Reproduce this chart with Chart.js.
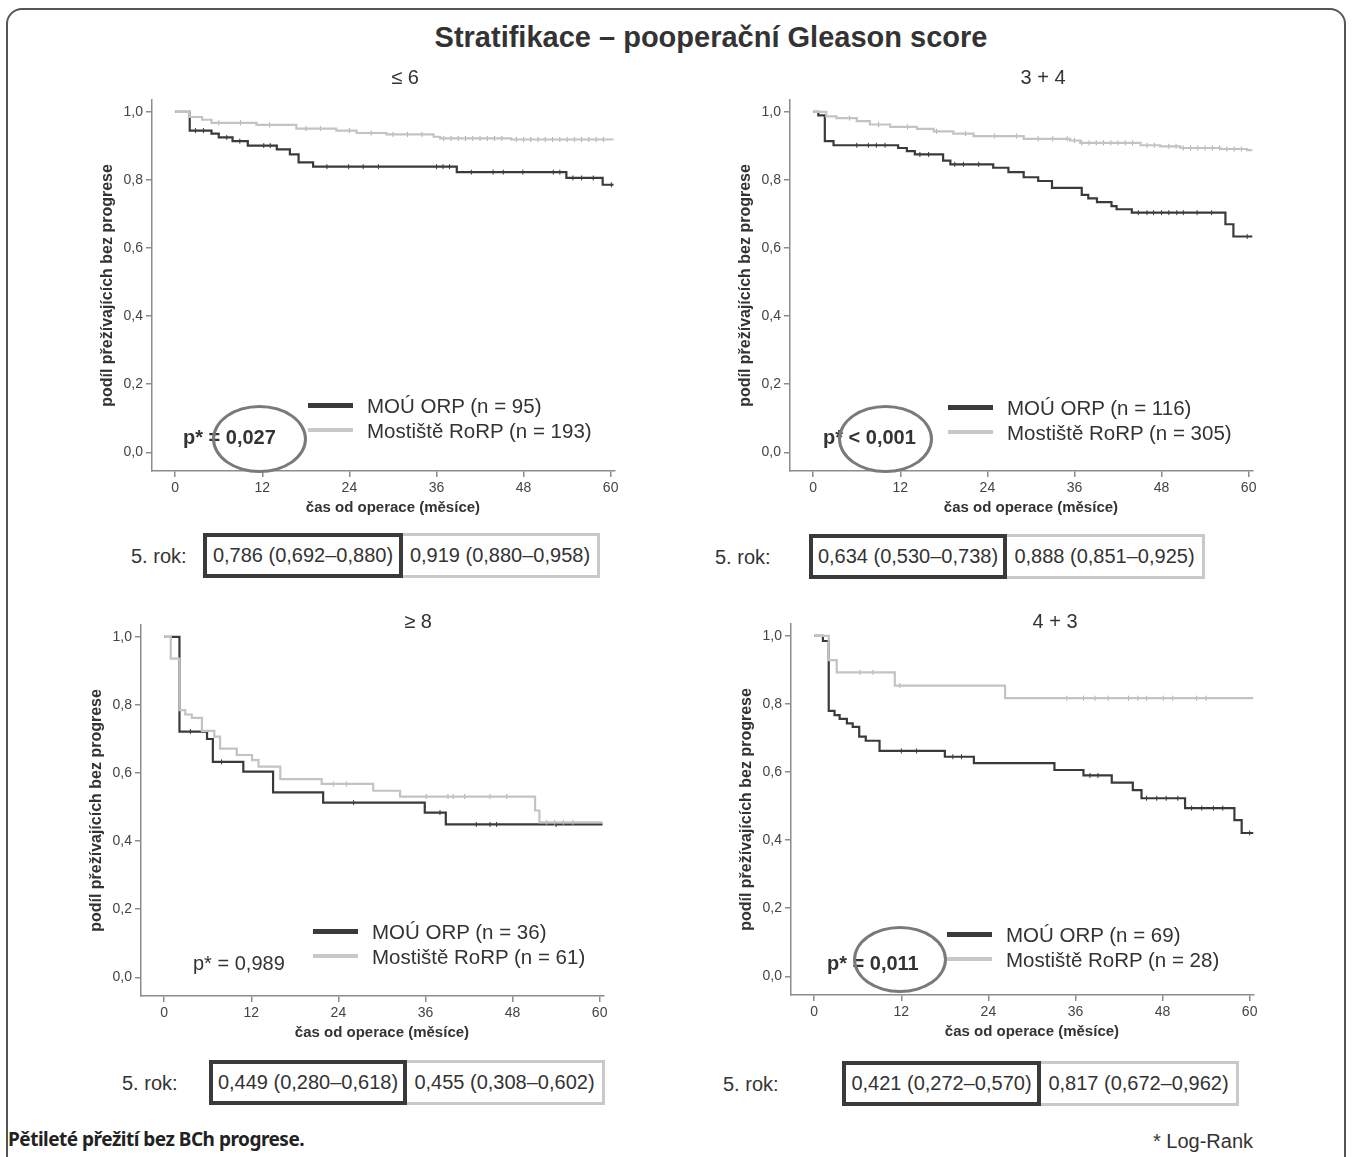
<!DOCTYPE html>
<html>
<head>
<meta charset="utf-8">
<script src="https://cdn.jsdelivr.net/npm/chart.js@4.4.1/dist/chart.umd.min.js"></script>
<style>
  body { margin: 0; background: #fff; font-family: 'Liberation Sans', Arial, sans-serif; color: #333; }
  #page { position: relative; width: 1352px; height: 1157px; overflow: hidden; }
  .abs { position: absolute; white-space: nowrap; }
  canvas { position: absolute; }
  .frame { position: absolute; left: 6px; top: 8px; width: 1340px; height: 1220px; box-sizing: border-box;
           border: 2px solid #555; border-radius: 16px; }
  .title { font-weight: bold; font-size: 29px; line-height: 34px; text-align: center; color: #333; }
  .sub { font-size: 20px; line-height: 24px; text-align: center; width: 200px; }
  .leg { font-size: 20.5px; line-height: 25px; display: flex; align-items: center; }
  .sw { display: inline-block; width: 45px; margin-right: 14px; }
  .pval { font-size: 20px; line-height: 24px; }
  .ring { border: 3px solid #7a7a7a; border-radius: 50%; box-sizing: border-box; }
  .box { box-sizing: border-box; font-size: 20px; text-align: center; background: transparent; }
  .lab { font-size: 20px; line-height: 24px; }
</style>
</head>
<body>
<div id="page">
  <div class="frame"></div>
  <div class="abs title" style="left:411px;top:20px;width:600px">Stratifikace – pooperační Gleason score</div>
  <div class="abs" style="left:8px;top:1126px;font-family:'Noto Sans',sans-serif;font-weight:bold;font-size:19px;line-height:26px;letter-spacing:-0.5px;color:#222">Pětileté přežití bez BCh progrese.</div>
  <div class="abs" style="left:1153px;top:1129px;font-size:20px;line-height:24px">* Log-Rank</div>
</div>
<script>
// Panel labels and table values
const panelTitles = ['≤ 6', '3 + 4', '≥ 8', '4 + 3'];
const groupNames = ['MOÚ ORP', 'Mostiště RoRP'];
const nOrp = [95, 116, 36, 69];
const nRorp = [193, 305, 61, 28];
const pValues = ['= 0,027', '< 0,001', '= 0,989', '= 0,011'];
const pBold = [true, true, false, true];
const fiveYearOrp = ['0,786 (0,692–0,880)', '0,634 (0,530–0,738)', '0,449 (0,280–0,618)', '0,421 (0,272–0,570)'];
const fiveYearRorp = ['0,919 (0,880–0,958)', '0,888 (0,851–0,925)', '0,455 (0,308–0,602)', '0,817 (0,672–0,962)'];

// Axis ticks
const monthTicks = [0, 12, 24, 36, 48, 60];
const survivalTicks = [0, 0.2, 0.4, 0.6, 0.8, 1.0];

// Gleason <= 6
const orpTime1 = [0, 2.0, 5.0, 6.0, 7.9, 10.0, 14.0, 15.8, 17.0, 19.0, 38.8, 53.9, 58.9, 60.4];
const orpSurv1 = [1.0, 0.945, 0.936, 0.925, 0.914, 0.901, 0.890, 0.875, 0.852, 0.839, 0.823, 0.806, 0.786, 0.786];
const orpCens1 = [2.8, 3.9, 7.1, 8.9, 12.2, 13.1, 20.9, 23.9, 25.9, 28.0, 36.0, 36.9, 37.8, 40.8, 43.8, 45.2, 47.9, 52.1, 53.0, 54.8, 56.0, 57.6, 60.1];
const rorpTime1 = [0, 2.0, 3.7, 5.0, 11.2, 16.7, 22.2, 25.0, 29.1, 35.6, 36.5, 46.3, 60.4];
const rorpSurv1 = [1.0, 0.985, 0.977, 0.968, 0.962, 0.951, 0.945, 0.938, 0.934, 0.927, 0.922, 0.919, 0.919];
const rorpCens1 = [6, 9, 13, 18, 20, 24, 27, 30, 32, 34, 37, 38, 39, 40, 41, 42, 43, 44, 45, 47, 48, 49, 50, 51, 52, 53, 54, 55, 56, 57, 58, 59];

// Gleason 3 + 4
const orpTime2 = [0, 0.7, 1.6, 2.8, 11.7, 12.9, 14.0, 17.9, 18.9, 24.8, 26.9, 29.0, 31.0, 32.9, 37.0, 37.9, 39.1, 41.1, 41.8, 43.9, 56.8, 57.9, 60.5];
const orpSurv2 = [1.0, 0.99, 0.914, 0.902, 0.894, 0.885, 0.875, 0.857, 0.846, 0.836, 0.823, 0.808, 0.797, 0.777, 0.756, 0.746, 0.735, 0.723, 0.714, 0.704, 0.670, 0.634, 0.634];
const orpCens2 = [6.0, 7.6, 8.7, 9.9, 14.7, 15.9, 19.5, 20.7, 22.8, 44.8, 46.0, 46.9, 48.0, 49.0, 50.1, 51.0, 52.9, 54.9, 59.8];
const rorpTime2 = [0, 1.8, 3.2, 6.0, 7.8, 10.6, 14.3, 16.6, 19.3, 22.1, 29.0, 35.4, 36.8, 45.1, 47.8, 50.6, 56.1, 59.8, 60.5];
const rorpSurv2 = [1.0, 0.987, 0.982, 0.973, 0.963, 0.956, 0.950, 0.943, 0.936, 0.929, 0.921, 0.916, 0.909, 0.902, 0.899, 0.894, 0.891, 0.888, 0.888];
const rorpCens2 = [5, 9, 13, 17, 21, 25, 28, 31, 33, 35, 36, 37, 38, 39, 40, 41, 42, 43, 44, 46, 47, 49, 50, 51, 52, 53, 54, 55, 56, 57, 58, 59];

// Gleason >= 8
const orpTime3 = [0, 2.1, 5.9, 6.7, 10.9, 15.0, 21.9, 35.9, 38.8, 60.4];
const orpSurv3 = [1.0, 0.722, 0.700, 0.633, 0.604, 0.543, 0.513, 0.484, 0.449, 0.449];
const orpCens3 = [3.6, 7.9, 26.1, 38.0, 43.0, 44.9, 45.8, 54.0];
const rorpTime3 = [0, 0.9, 2.1, 2.9, 3.8, 5.2, 6.9, 7.7, 10.0, 12.1, 13.0, 16.0, 21.7, 28.8, 32.5, 51.1, 51.7, 60.4];
const rorpSurv3 = [1.0, 0.936, 0.785, 0.772, 0.762, 0.724, 0.707, 0.672, 0.653, 0.638, 0.619, 0.582, 0.568, 0.548, 0.531, 0.490, 0.455, 0.455];
const rorpCens3 = [23.3, 25.1, 36.1, 39.1, 39.8, 41.4, 44.9, 47.2, 52.7, 53.8, 55.0, 56.3];

// Gleason 4 + 3
const orpTime4 = [0, 1.2, 2.0, 2.8, 3.5, 4.5, 5.3, 6.2, 7.1, 9.0, 18.0, 22.0, 33.1, 37.1, 41.0, 43.9, 45.1, 51.1, 57.9, 58.9, 60.5];
const orpSurv4 = [1.0, 0.985, 0.780, 0.767, 0.756, 0.743, 0.733, 0.704, 0.692, 0.662, 0.645, 0.626, 0.606, 0.590, 0.569, 0.547, 0.523, 0.494, 0.459, 0.421, 0.421];
const orpCens4 = [12.0, 14.1, 19.1, 20.3, 38.0, 39.1, 45.8, 47.2, 48.5, 50.1, 52.0, 53.4, 55.0, 56.3, 60.0];
const rorpTime4 = [0, 2.0, 3.1, 11.1, 26.3, 60.5];
const rorpSurv4 = [1.0, 0.929, 0.893, 0.854, 0.817, 0.817];
const rorpCens4 = [6.3, 8.1, 11.8, 34.8, 37.1, 38.7, 40.5, 43.3, 44.6, 45.8, 48.1, 49.4, 52.7, 54.0];

const curves = [
    [orpTime1, orpSurv1, orpCens1, rorpTime1, rorpSurv1, rorpCens1],
    [orpTime2, orpSurv2, orpCens2, rorpTime2, rorpSurv2, rorpCens2],
    [orpTime3, orpSurv3, orpCens3, rorpTime3, rorpSurv3, rorpCens3],
    [orpTime4, orpSurv4, orpCens4, rorpTime4, rorpSurv4, rorpCens4]
];

// Page placement of each panel (pixels)
const layout = [
    { area: [152, 100], sub: [405, 77], legend: [308, 405], p: [183, 437], ring: [212, 405, 95, 68], lab: [131, 556], box: [203, 400, 533, 200, 200] },
    { area: [790, 100], sub: [1043, 77], legend: [948, 407], p: [823, 437], ring: [838, 405, 95, 68], lab: [715, 557], box: [809, 1004, 534, 198, 201] },
    { area: [141, 625], sub: [418, 621], legend: [313, 931], p: [193, 963], ring: null, lab: [122, 1083], box: [209, 404, 1060, 198, 201] },
    { area: [791, 624], sub: [1055, 621], legend: [947, 934], p: [827, 963], ring: [853, 926, 94, 67], lab: [723, 1084], box: [842, 1038, 1061, 199, 201] }
];

const DARK = '#3a3a3a';
const LIGHT = '#c3c3c3';
const AXIS = '#8c8c8c';
const Y_W = 58, X_H = 50, PAD_T = 14, PAD_R = 14, AREA_W = 463, AREA_H = 371;

// value of a step curve at time t
function stepValue(T, S, t) {
    let v = S[0];
    for (let i = 0; i < T.length; i++) {
        if (T[i] <= t) v = S[i];
    }
    return v;
}

// draw x axis title centred on the data range
const xTitlePlugin = {
    id: 'xTitle',
    afterDraw(chart) {
        const { ctx, scales: { x } } = chart;
        ctx.save();
        ctx.font = "bold 15px 'Liberation Sans', Arial, sans-serif";
        ctx.fillStyle = '#333';
        ctx.textAlign = 'center';
        ctx.textBaseline = 'middle';
        ctx.fillText('čas od operace (měsíce)', x.getPixelForValue(30), x.bottom - 13);
        ctx.restore();
    }
};

const page = document.getElementById('page');

function addDiv(cls, style, text) {
    const d = document.createElement('div');
    d.className = 'abs ' + cls;
    d.setAttribute('style', style);
    if (text !== undefined) d.textContent = text;
    page.appendChild(d);
    return d;
}

function makePanel(i) {
    const L = layout[i];
    const [oT, oS, oC, rT, rS, rC] = curves[i];

    const canvas = document.createElement('canvas');
    canvas.width = Y_W + AREA_W + PAD_R;
    canvas.height = PAD_T + AREA_H + X_H;
    canvas.style.left = (L.area[0] - Y_W) + 'px';
    canvas.style.top = (L.area[1] - PAD_T) + 'px';
    page.appendChild(canvas);

    new Chart(canvas.getContext('2d'), {
        type: 'line',
        data: {
            datasets: [
                {
                    label: groupNames[1],
                    data: rT.map((t, k) => ({ x: t, y: rS[k] })),
                    stepped: 'before',
                    borderColor: LIGHT,
                    borderWidth: 2.2,
                    pointRadius: 0,
                    order: 0
                },
                {
                    label: groupNames[0],
                    data: oT.map((t, k) => ({ x: t, y: oS[k] })),
                    stepped: 'before',
                    borderColor: DARK,
                    borderWidth: 2.2,
                    pointRadius: 0,
                    order: 1
                },
                {
                    label: 'cens ' + groupNames[1],
                    data: rC.map(t => ({ x: t, y: stepValue(rT, rS, t) })),
                    showLine: false,
                    pointStyle: 'line',
                    rotation: 90,
                    pointRadius: 2.5,
                    borderColor: '#a8a8a8',
                    pointBorderWidth: 1,
                    order: 0
                },
                {
                    label: 'cens ' + groupNames[0],
                    data: oC.map(t => ({ x: t, y: stepValue(oT, oS, t) })),
                    showLine: false,
                    pointStyle: 'line',
                    rotation: 90,
                    pointRadius: 2.5,
                    borderColor: DARK,
                    pointBorderWidth: 1,
                    order: 1
                }
            ]
        },
        options: {
            responsive: false,
            animation: false,
            layout: { padding: { top: PAD_T, right: PAD_R, left: 0, bottom: 0 } },
            plugins: { legend: { display: false }, tooltip: { enabled: false } },
            scales: {
                x: {
                    type: 'linear',
                    min: -3.2,
                    max: 60.6,
                    afterBuildTicks: s => { s.ticks = monthTicks.map(v => ({ value: v })); },
                    afterFit: s => { s.height = X_H; },
                    ticks: { color: '#444', padding: 3, maxRotation: 0, autoSkip: false,
                             font: { size: 14, family: "'Liberation Sans', Arial, sans-serif" } },
                    grid: { drawOnChartArea: false, drawTicks: true, tickLength: 6, color: AXIS, lineWidth: 1.5 },
                    border: { display: true, color: AXIS, width: 1.5 }
                },
                y: {
                    min: -0.055,
                    max: 1.035,
                    afterBuildTicks: s => { s.ticks = survivalTicks.map(v => ({ value: v })); },
                    afterFit: s => { s.width = Y_W; },
                    ticks: { color: '#444', padding: 3,
                             font: { size: 14, family: "'Liberation Sans', Arial, sans-serif" },
                             callback: v => v.toFixed(1).replace('.', ',') },
                    grid: { drawOnChartArea: false, drawTicks: true, tickLength: 6, color: AXIS, lineWidth: 1.5 },
                    border: { display: true, color: AXIS, width: 1.5 },
                    title: { display: true, text: 'podíl přežívajících bez progrese', color: '#333',
                             padding: { top: 4, bottom: 0 },
                             font: { size: 16, weight: 'bold', family: "'Liberation Sans', Arial, sans-serif" } }
                }
            }
        },
        plugins: [xTitlePlugin]
    });

    // subtitle
    addDiv('sub', `left:${L.sub[0] - 100}px;top:${L.sub[1] - 12}px`, panelTitles[i]);

    // legend
    const leg1 = addDiv('leg', `left:${L.legend[0]}px;top:${L.legend[1] - 12.5}px`);
    leg1.innerHTML = `<span class="sw" style="height:5px;background:${DARK}"></span>${groupNames[0]} (n = ${nOrp[i]})`;
    const leg2 = addDiv('leg', `left:${L.legend[0]}px;top:${L.legend[1] + 12.5}px`);
    leg2.innerHTML = `<span class="sw" style="height:4px;background:#c8c8c8"></span>${groupNames[1]} (n = ${nRorp[i]})`;

    // p value and ring
    addDiv('pval', `left:${L.p[0]}px;top:${L.p[1] - 12}px;font-weight:${pBold[i] ? 'bold' : 'normal'}`, 'p* ' + pValues[i]);
    if (L.ring) {
        addDiv('ring', `left:${L.ring[0]}px;top:${L.ring[1]}px;width:${L.ring[2]}px;height:${L.ring[3]}px`);
    }

    // 5-year table
    const [bx1, bx2, by, bw1, bw2] = L.box;
    addDiv('lab', `left:${L.lab[0]}px;top:${L.lab[1] - 12}px`, '5. rok:');
    addDiv('box', `left:${bx2}px;top:${by}px;width:${bw2}px;height:45px;line-height:39px;border:3px solid #c9c9c9`, fiveYearRorp[i]);
    addDiv('box', `left:${bx1}px;top:${by}px;width:${bw1}px;height:45px;line-height:37px;border:4px solid ${DARK}`, fiveYearOrp[i]);
}

for (let i = 0; i < 4; i++) makePanel(i);
</script>
</body>
</html>
